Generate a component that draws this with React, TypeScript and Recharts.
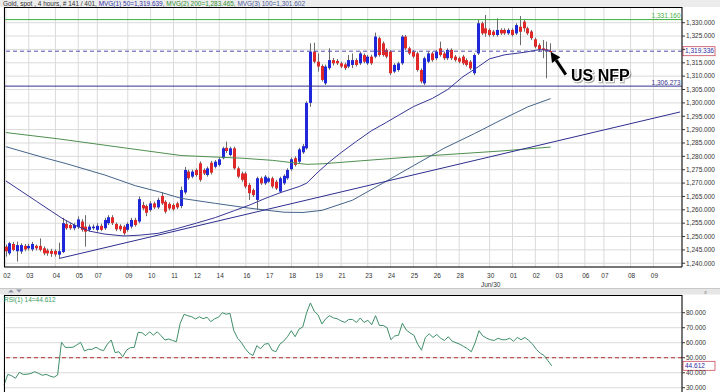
import React from 'react';
import { ComposedChart, Bar, Line, XAxis, YAxis, CartesianGrid, ReferenceLine } from 'recharts';

const FONT = '"Liberation Sans", Arial, sans-serif';
const SLOT_COUNT = 178;

// 4-hour candles (slot index = position in array)
const opens = [
  1246.2, 1243.7, 1247.2, 1244.5, 1244.4, 1246.5, 1245.6, 1245.2, 1246.5, 1246.5,
  1245.6, 1244.8, 1244.6, 1244.6, 1243.2, 1244.2, 1254.7, 1254.3, 1253.1, 1253.5,
  1255.6, 1253.7, 1252.5, 1253.1, 1252.5, 1254.0, 1253.1, 1255.0, 1257.2, 1254.7,
  1254.0, 1253.7, 1252.5, 1253.7, 1256.2, 1255.6, 1261.8, 1261.4, 1259.9, 1262.4,
  1260.9, 1265.2, 1263.0, 1262.2, 1261.8, 1262.4, 1261.4, 1266.5, 1274.3, 1272.4,
  1274.9, 1277.4, 1274.9, 1273.0, 1277.6, 1276.1, 1276.8, 1279.3, 1283.2, 1280.5,
  1283.0, 1275.5, 1273.6, 1273.6, 1269.3, 1267.4, 1263.7, 1271.8, 1269.9, 1270.5,
  1271.8, 1270.5, 1266.8, 1269.9, 1271.8, 1275.2, 1279.3, 1278.0, 1281.5, 1283.0,
  1300.0, 1319.2, 1315.4, 1313.8, 1307.3, 1313.0, 1316.0, 1315.7, 1314.8, 1314.4,
  1313.6, 1314.2, 1316.0, 1314.8, 1317.9, 1314.8, 1317.3, 1317.3, 1324.2, 1322.3,
  1319.8, 1319.2, 1311.7, 1312.3, 1314.8, 1324.8, 1320.4, 1319.2, 1318.5, 1312.3,
  1307.3, 1315.4, 1318.5, 1316.7, 1320.4, 1318.5, 1316.7, 1319.8, 1317.3, 1316.7,
  1317.3, 1316.0, 1315.4, 1311.1, 1318.5, 1329.8, 1327.9, 1327.3, 1326.7, 1325.4,
  1327.3, 1327.3, 1326.0, 1327.3, 1326.0, 1328.5, 1330.4, 1327.9, 1326.7, 1323.8,
  1321.6, 1320.4, 1320.0, 1319.4,
];
const highs = [
  1247.0, 1248.0, 1248.0, 1248.1, 1247.5, 1247.2, 1247.3, 1248.0, 1247.0, 1249.3,
  1246.3, 1245.5, 1245.4, 1245.2, 1247.7, 1257.0, 1256.0, 1255.0, 1255.0, 1257.5,
  1256.5, 1258.0, 1254.5, 1254.5, 1255.0, 1254.8, 1257.0, 1258.0, 1258.0, 1255.3,
  1254.6, 1254.3, 1255.3, 1257.0, 1257.0, 1265.0, 1263.0, 1262.0, 1263.2, 1263.0,
  1264.5, 1266.5, 1263.6, 1262.8, 1262.4, 1263.0, 1268.7, 1276.0, 1275.0, 1275.0,
  1275.5, 1278.1, 1275.5, 1276.2, 1278.3, 1278.6, 1279.6, 1283.6, 1285.5, 1283.6,
  1283.6, 1276.2, 1274.3, 1274.2, 1270.0, 1268.0, 1272.4, 1272.4, 1273.0, 1272.4,
  1272.4, 1271.2, 1272.4, 1273.3, 1275.5, 1279.6, 1280.0, 1283.2, 1284.6, 1300.6,
  1322.3, 1322.5, 1318.5, 1314.4, 1314.3, 1320.4, 1316.8, 1316.4, 1315.4, 1315.0,
  1317.9, 1318.5, 1316.7, 1319.2, 1318.5, 1317.9, 1318.0, 1326.3, 1324.8, 1323.0,
  1320.4, 1319.8, 1314.8, 1315.4, 1325.4, 1325.4, 1321.0, 1319.8, 1319.2, 1312.9,
  1317.3, 1319.2, 1319.2, 1319.8, 1322.9, 1319.2, 1320.4, 1320.4, 1317.9, 1317.3,
  1317.9, 1316.7, 1316.0, 1318.5, 1331.0, 1330.4, 1332.9, 1327.9, 1327.3, 1331.6,
  1327.9, 1327.9, 1327.9, 1327.9, 1329.8, 1332.5, 1331.0, 1328.5, 1327.3, 1324.4,
  1322.3, 1323.5, 1322.9, 1322.3,
];
const lows = [
  1242.5, 1243.0, 1244.5, 1240.6, 1243.5, 1244.5, 1244.8, 1244.5, 1244.8, 1244.4,
  1243.0, 1242.8, 1242.4, 1242.5, 1241.8, 1243.8, 1252.5, 1252.5, 1252.3, 1252.8,
  1251.8, 1246.2, 1251.8, 1252.5, 1251.8, 1252.0, 1252.5, 1254.3, 1254.3, 1252.0,
  1252.0, 1250.5, 1251.8, 1253.0, 1253.7, 1255.0, 1259.8, 1257.6, 1259.3, 1260.3,
  1260.3, 1261.8, 1258.6, 1259.8, 1259.6, 1260.3, 1260.6, 1265.8, 1271.2, 1271.8,
  1272.4, 1270.5, 1273.0, 1272.4, 1273.2, 1275.5, 1276.2, 1278.9, 1281.3, 1280.0,
  1275.0, 1271.8, 1270.5, 1268.0, 1263.7, 1264.8, 1259.9, 1269.3, 1269.3, 1270.0,
  1268.0, 1267.4, 1266.2, 1269.3, 1271.2, 1274.6, 1276.2, 1277.4, 1280.9, 1282.5,
  1298.5, 1314.8, 1311.7, 1308.0, 1306.7, 1312.3, 1314.0, 1314.2, 1313.0, 1312.3,
  1313.0, 1313.0, 1313.6, 1314.2, 1314.8, 1314.2, 1314.2, 1316.7, 1317.3, 1317.3,
  1316.7, 1310.4, 1311.1, 1311.7, 1314.2, 1319.8, 1317.9, 1316.7, 1311.7, 1307.3,
  1306.7, 1314.8, 1315.4, 1316.0, 1317.3, 1316.0, 1316.0, 1316.0, 1315.4, 1314.8,
  1314.2, 1313.6, 1312.3, 1310.4, 1317.9, 1325.4, 1324.8, 1324.8, 1324.8, 1324.8,
  1325.4, 1325.4, 1325.4, 1324.8, 1325.4, 1321.6, 1326.6, 1325.4, 1323.5, 1320.4,
  1319.2, 1316.7, 1309.2, 1319.0,
];
const closes = [
  1244.5, 1247.5, 1245.0, 1246.8, 1246.8, 1245.2, 1246.5, 1247.2, 1245.6, 1245.0,
  1243.7, 1243.7, 1243.5, 1243.3, 1244.5, 1255.0, 1253.1, 1253.1, 1254.3, 1256.4,
  1252.5, 1251.8, 1253.7, 1253.7, 1254.0, 1252.5, 1256.2, 1257.2, 1255.0, 1252.7,
  1252.7, 1251.2, 1254.7, 1256.2, 1254.3, 1264.0, 1260.5, 1258.9, 1262.4, 1260.9,
  1263.7, 1262.4, 1259.3, 1260.5, 1260.2, 1260.9, 1267.4, 1274.9, 1271.8, 1274.3,
  1273.0, 1271.2, 1273.6, 1275.5, 1273.9, 1278.0, 1278.9, 1283.0, 1282.0, 1283.0,
  1275.5, 1272.4, 1271.2, 1268.7, 1266.2, 1265.5, 1271.8, 1269.9, 1272.4, 1271.8,
  1268.7, 1268.0, 1271.8, 1272.7, 1274.9, 1278.9, 1276.8, 1282.6, 1283.8, 1300.0,
  1319.2, 1315.4, 1313.6, 1308.6, 1313.6, 1316.0, 1314.8, 1314.8, 1313.6, 1313.0,
  1316.0, 1316.0, 1314.2, 1318.5, 1315.4, 1317.3, 1314.8, 1324.8, 1317.9, 1317.9,
  1317.3, 1311.1, 1314.2, 1314.8, 1324.8, 1320.4, 1318.5, 1317.3, 1312.3, 1308.0,
  1316.7, 1318.5, 1316.0, 1319.2, 1317.9, 1316.7, 1319.8, 1316.7, 1316.0, 1315.4,
  1314.8, 1314.2, 1312.9, 1317.9, 1329.8, 1326.0, 1326.0, 1325.4, 1325.4, 1327.3,
  1326.0, 1326.0, 1327.3, 1325.4, 1329.1, 1326.6, 1327.9, 1326.0, 1324.2, 1321.0,
  1320.0, 1319.8, 1319.5, 1319.336,
];

// moving averages, read at selected slots
const ma50Slots = [0, 4, 8, 12, 15, 18, 22, 26, 31, 35, 40, 45, 50, 55, 60, 64, 68, 72, 77, 79, 82, 85, 88, 92, 96, 100, 103, 107, 112, 116, 120, 124, 127, 131, 136, 140, 143];
const ma50Vals = [1270.8, 1267, 1263.2, 1259.4, 1256.6, 1254.3, 1252, 1250.9, 1250.2, 1250.5, 1251.2, 1253, 1255, 1257.1, 1259.7, 1261.8, 1264.2, 1266.4, 1268.7, 1270, 1274.2, 1278, 1281.4, 1285.6, 1289.6, 1292.8, 1295.3, 1298.6, 1301.7, 1305, 1309.8, 1313.5, 1316.5, 1318, 1318.9, 1319.9, 1319.64];
const ma100Slots = [0, 10, 16, 26, 34, 40, 46, 55, 64, 73, 78, 83, 91, 99, 107, 115, 123, 130, 137, 143];
const ma100Vals = [1283.6, 1279.5, 1277.2, 1273, 1269, 1266.8, 1264.3, 1262.4, 1260.6, 1259.1, 1259, 1259.8, 1263.6, 1270, 1276.5, 1283, 1288.5, 1293.6, 1298.5, 1301.6];
const ma200Slots = [0, 14, 32, 46, 62, 70, 79, 83, 93, 104, 114, 130, 143];
const ma200Vals = [1288.9, 1286.5, 1283, 1280.3, 1279.3, 1278.5, 1277, 1277.2, 1278.3, 1279.5, 1280.5, 1282, 1283.47];
// support trend line end points
const trendSlots = [14, 177];
const trendVals = [1241.8, 1296.6];

// RSI(14)
const rsiVals = [
  31.8, 38.9, 38.0, 36.3, 40.3, 38.9, 39.0, 39.5, 40.7, 39.6,
  38.3, 38.9, 37.8, 37.0, 38.5, 60.3, 56.9, 56.9, 57.0, 58.5,
  60.3, 54.5, 55.6, 55.6, 57.0, 55.5, 54.7, 59.1, 61.8, 53.4,
  54.0, 50.7, 55.1, 56.7, 56.9, 66.9, 66.7, 64.7, 67.3, 65.1,
  67.3, 64.7, 61.8, 62.5, 61.5, 60.7, 72.9, 78.9, 78.0, 77.3,
  75.8, 77.3, 76.0, 77.0, 74.0, 76.0, 77.0, 80.0, 79.0, 79.5,
  68.0, 63.0, 60.0, 56.0, 53.0, 51.5, 58.0, 56.0, 59.0, 59.5,
  55.0, 54.0, 59.0, 61.0, 64.0, 68.0, 64.0, 69.0, 70.5, 80.0,
  86.5, 81.0, 78.5, 72.5, 76.0, 78.0, 76.5, 76.0, 74.5, 73.5,
  75.5, 75.5, 73.5, 76.5, 73.5, 75.0, 72.0, 78.0, 71.5, 71.5,
  70.0, 62.0, 64.5, 65.0, 73.0, 68.5, 66.5, 65.0, 59.0, 55.0,
  63.5, 66.0, 63.5, 65.5, 63.0, 61.5, 64.0, 61.0, 60.0, 59.0,
  57.5, 56.0, 54.0, 60.0, 68.0, 64.5, 63.0, 62.0, 61.5, 63.0,
  62.0, 62.0, 63.0, 61.0, 63.5, 62.0, 63.5, 61.5, 59.0, 55.5,
  53.0, 51.5, 48.0, 44.612,
];

const dayTicks = [0, 6, 13, 19, 24, 32, 38, 44, 50, 56, 63, 69, 75, 82, 88, 95, 101, 107, 113, 119, 127, 133, 139, 145, 152, 157, 164, 170];
const dayLabels = ['02', '03', '04', '05', '07', '09', '10', '11', '12', '14', '16', '17', '18', '19', '21', '23', '24', '25', '26', '28', '30', '01', '02', '03', '06', '07', '08', '09'];
const monthMarkSlot = 127;
const monthMarkLabel = 'Jun/30';

const priceTicks = [1240, 1245, 1250, 1255, 1260, 1265, 1270, 1275, 1280, 1285, 1290, 1295, 1300, 1305, 1310, 1315, 1320, 1325, 1330];
const rsiTicks = [30, 40, 50, 60, 70, 80];

const resistance = 1331.16;
const support = 1306.273;
const lastPrice = 1319.336;
const lastRsi = 44.612;

function sparse(slots: number[], vals: number[]) {
  const m: Record<number, number> = {};
  slots.forEach((s, k) => { m[s] = vals[k]; });
  return m;
}
const ma50Map = sparse(ma50Slots, ma50Vals);
const ma100Map = sparse(ma100Slots, ma100Vals);
const ma200Map = sparse(ma200Slots, ma200Vals);
const trendMap = sparse(trendSlots, trendVals);

const mainData = Array.from({ length: SLOT_COUNT }, (_, i) => ({
  i,
  open: opens[i] ?? null,
  high: highs[i] ?? null,
  low: lows[i] ?? null,
  close: closes[i] ?? null,
  ma50: ma50Map[i] ?? null,
  ma100: ma100Map[i] ?? null,
  ma200: ma200Map[i] ?? null,
  trend: trendMap[i] ?? null,
}));
const rsiData = Array.from({ length: SLOT_COUNT }, (_, i) => ({ i, rsi: rsiVals[i] ?? null }));

const fmtPrice = (v: number) => {
  const s = v.toFixed(3);
  const [a, b] = s.split('.');
  return a.replace(/\B(?=(\d{3})+(?!\d))/g, ',') + '.' + b;
};

const candleRange = (d: any) => (d.high == null ? null : [d.low, d.high]);

const Candle = (props: any) => {
  const { x, y, width, height, payload } = props;
  if (!payload || payload.high == null || !isFinite(y)) return null;
  const { open, close, high, low } = payload;
  const ppu = height / (high - low || 1);
  const cx = Math.round(x + width / 2) + 0.5;
  const yO = y + (high - open) * ppu;
  const yC = y + (high - close) * ppu;
  const up = close >= open;
  const top = Math.min(yO, yC);
  const h = Math.max(1, Math.abs(yO - yC));
  return (
    <g>
      <line x1={cx} x2={cx} y1={y} y2={y + height} stroke="#6a6a6a" strokeWidth={1} />
      <rect x={cx - 1.5} y={top} width={3} height={h} fill={up ? '#1e28d8' : '#e02828'} />
    </g>
  );
};

const DayTick = (props: any) => {
  const { x, y, payload } = props;
  const idx = dayTicks.indexOf(payload.value);
  const label = idx >= 0 ? dayLabels[idx] : '';
  return (
    <g>
      <text x={x + 1} y={y + 10.5} textAnchor="middle" fontSize={6.5} fill="#333" fontFamily={FONT}>{label}</text>
      {payload.value === monthMarkSlot && (
        <text x={x + 1} y={y + 19.5} textAnchor="middle" fontSize={6.5} fill="#333" fontFamily={FONT}>{monthMarkLabel}</text>
      )}
    </g>
  );
};

// the price box covers the 1,320 label in the reference
const PriceTick = (props: any) => {
  const { x, y, payload } = props;
  if (Math.abs(payload.value - lastPrice) < 2.5) return <g />;
  return (
    <text x={x} y={y} dy={2.3} textAnchor="start" fontSize={6.5} fill="#333" fontFamily={FONT}>{fmtPrice(payload.value)}</text>
  );
};

const RsiTick = (props: any) => {
  const { x, y, payload } = props;
  return (
    <text x={x} y={y} dy={2.3} textAnchor="start" fontSize={6.5} fill="#333" fontFamily={FONT}>{Number(payload.value).toFixed(3)}</text>
  );
};

const boxLabel = (text: string) => (props: any) => {
  const vb = props.viewBox || {};
  const xr = (vb.x || 0) + (vb.width || 0);
  const yy = vb.y || 0;
  return (
    <g>
      <rect x={xr + 1} y={yy - 4.5} width={32} height={9} fill="#fff" stroke="#c8485a" strokeWidth={0.8} />
      <text x={xr + 3} y={yy + 2.3} fontSize={6.5} fill="#2a2aa0" fontFamily={FONT}>{text}</text>
    </g>
  );
};

const ArrowShape = (props: any) => {
  const { x1, y1, x2, y2 } = props;
  if (![x1, y1, x2, y2].every((v) => isFinite(v))) return null;
  const dx = x2 - x1, dy = y2 - y1;
  const len = Math.sqrt(dx * dx + dy * dy) || 1;
  const ux = dx / len, uy = dy / len;
  const hl = 10, hw = 5;
  const bx = x2 - ux * hl, by = y2 - uy * hl;
  const px = -uy, py = ux;
  return (
    <g>
      <line x1={x1} y1={y1} x2={bx} y2={by} stroke="#000" strokeWidth={3} />
      <polygon points={`${x2},${y2} ${bx + px * hw},${by + py * hw} ${bx - px * hw},${by - py * hw}`} fill="#000" />
    </g>
  );
};

export default function App() {
  return (
    <div style={{ position: 'absolute', left: 0, top: 0, width: 720, height: 392, background: '#fff', overflow: 'hidden', fontFamily: FONT }}>
      <div style={{ position: 'absolute', left: 0, top: 0 }}>
        <ComposedChart width={720} height={296} data={mainData} margin={{ top: 7, right: 0, bottom: 0, left: 4 }}>
          <CartesianGrid stroke="#dadada" strokeWidth={1} />
          <XAxis dataKey="i" type="category" ticks={dayTicks} interval={0} tick={<DayTick />} tickLine={false} tickSize={0} tickMargin={0} height={29} axisLine={{ stroke: '#000' }} />
          <YAxis orientation="right" width={38} type="number" domain={[1238.6, 1335.87]} allowDataOverflow ticks={priceTicks} interval={0} tick={<PriceTick />} tickSize={3} tickMargin={1} tickLine={{ stroke: '#333' }} axisLine={{ stroke: '#000' }} />
          <ReferenceLine y={resistance} stroke="#3fae3f" strokeWidth={1} label={{ value: fmtPrice(resistance), position: 'insideBottomRight', offset: 1.5, fill: '#3fae3f', fontSize: 6.5, fontFamily: FONT }} />
          <ReferenceLine y={support} stroke="#34348e" strokeWidth={1} label={{ value: fmtPrice(support), position: 'insideBottomRight', offset: 1.5, fill: '#34348e', fontSize: 6.5, fontFamily: FONT }} />
          <Bar dataKey={candleRange} barSize={3} shape={<Candle />} isAnimationActive={false} />
          <Line dataKey="ma200" stroke="#4f8f4f" strokeWidth={1} dot={false} connectNulls isAnimationActive={false} />
          <Line dataKey="ma100" stroke="#44648a" strokeWidth={1} dot={false} connectNulls isAnimationActive={false} />
          <Line dataKey="ma50" stroke="#363696" strokeWidth={1} dot={false} connectNulls isAnimationActive={false} />
          <Line dataKey="trend" stroke="#2e2e90" strokeWidth={1} dot={false} connectNulls isAnimationActive={false} />
          <ReferenceLine y={lastPrice} stroke="#5050b0" strokeDasharray="4 3" strokeWidth={1} label={boxLabel(fmtPrice(lastPrice))} />
          <ReferenceLine segment={[{ x: 147, y: 1310.6 }, { x: 143, y: 1319.1 }]} ifOverflow="visible" shape={<ArrowShape />} />
        </ComposedChart>
      </div>
      <div style={{ position: 'absolute', left: 0, top: 288 }}>
        <ComposedChart width={720} height={106} data={rsiData} margin={{ top: 7, right: 0, bottom: 0, left: 4 }}>
          <CartesianGrid stroke="#dadada" strokeWidth={1} />
          <XAxis dataKey="i" type="category" ticks={dayTicks} interval={0} tick={false} tickLine={false} axisLine={false} height={1} />
          <YAxis orientation="right" width={38} type="number" domain={[26.5, 91.8]} allowDataOverflow ticks={rsiTicks} interval={0} tick={<RsiTick />} tickSize={3} tickMargin={1} tickLine={{ stroke: '#333' }} axisLine={{ stroke: '#000' }} />
          <ReferenceLine y={50} stroke="#b03030" strokeDasharray="4 3" strokeWidth={1} />
          <Line dataKey="rsi" stroke="#3f8f6a" strokeWidth={1} dot={false} connectNulls isAnimationActive={false} />
          <ReferenceLine y={lastRsi} stroke="none" label={boxLabel(lastRsi.toFixed(3))} />
        </ComposedChart>
      </div>
      <svg width={720} height={392} style={{ position: 'absolute', left: 0, top: 0, pointerEvents: 'none' }}>
        <rect x={0} y={0} width={720} height={7} fill="#ececec" />
        <line x1={4} y1={7.5} x2={682} y2={7.5} stroke="#000" />
        <line x1={4.5} y1={7} x2={4.5} y2={267} stroke="#000" />
        <text x={3} y={5.6} fontSize={6.5} fontFamily={FONT} textLength={302} lengthAdjust="spacingAndGlyphs">
          <tspan fill="#333">Gold, spot , 4 hours, # 141 / 401, </tspan>
          <tspan fill="#3434a8">MVG(1) 50=1,319.639, </tspan>
          <tspan fill="#2f8f2f">MVG(2) 200=1,283.465, </tspan>
          <tspan fill="#4a5a9a">MVG(3) 100=1,301.602</tspan>
        </text>
        <rect x={0} y={288} width={720} height={6.5} fill="#e6e6e6" />
        <line x1={0} y1={288.5} x2={720} y2={288.5} stroke="#c8c8c8" />
        <polygon points="8,292.5 11,289.5 14,292.5" fill="#8a96a8" />
        <polygon points="16,289.5 22,289.5 19,292.5" fill="#8a96a8" />
        <text x={704} y={293.5} fontSize={6} fill="#888" fontFamily={FONT}>x</text>
        <line x1={4} y1={295.5} x2={682} y2={295.5} stroke="#000" />
        <line x1={4.5} y1={295} x2={4.5} y2={392} stroke="#000" />
        <text x={4} y={301.5} fontSize={6.5} fill="#3a9a5a" fontFamily={FONT}>RSI(1) 14=44.612</text>
        <text x={571} y={81} fontSize={16} fontWeight="bold" fontFamily={FONT} fill="#000" stroke="#fff" strokeWidth={2.5} paintOrder="stroke" style={{ filter: 'drop-shadow(1px 1px 0.5px rgba(0,0,0,0.35))' }}>US NFP</text>
      </svg>
    </div>
  );
}
